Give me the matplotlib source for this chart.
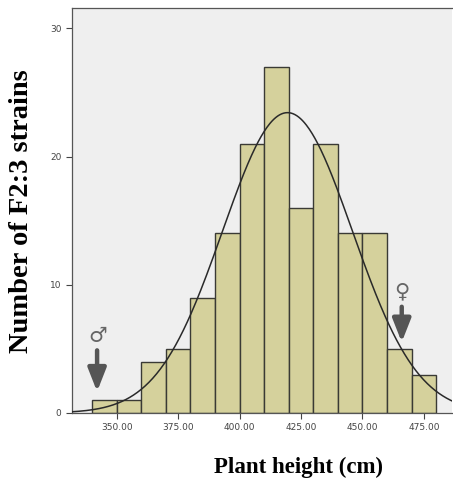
import numpy as np
import matplotlib
matplotlib.use("Agg")
import matplotlib.pyplot as plt

# Data
bin_left = [340, 350, 360, 370, 380, 390, 400, 410, 420, 430, 440, 450, 460, 470]
counts = [1, 1, 4, 5, 9, 14, 21, 27, 16, 21, 14, 14, 5, 3]
bin_width = 10
fit_mean = 419.5
fit_sd = 26.4
xticks = [350, 375, 400, 425, 450, 475]
yticks = [0, 10, 20, 30]
male_x, female_x = 342.0, 466.0

fig = plt.figure(figsize=(4.53, 4.87), dpi=100)
fig.patch.set_facecolor("white")
ax = fig.add_axes([0.159, 0.152, 0.839, 0.832])
ax.set_facecolor("#efefef")

ax.bar(bin_left, counts, width=bin_width, align="edge",
       color="#d5d19c", edgecolor="#3a3a35", linewidth=1.0, zorder=2)

n = sum(counts)
xs = np.linspace(331, 487, 400)
ys = n * bin_width / (fit_sd * np.sqrt(2 * np.pi)) * np.exp(-0.5 * ((xs - fit_mean) / fit_sd) ** 2)
ax.plot(xs, ys, color="#2a2a2a", linewidth=1.1, zorder=3)

ax.set_xlim(331.8, 486.5)
ax.set_ylim(0, 31.6)
ax.set_xticks(xticks)
ax.set_xticklabels([f"{v:.2f}" for v in xticks])
ax.set_yticks(yticks)
ax.tick_params(axis="both", labelsize=6.5, colors="#444444", length=4, width=0.8,
               labelcolor="#444444")
for s in ["left", "bottom", "top", "right"]:
    ax.spines[s].set_color("#555555")
    ax.spines[s].set_linewidth(0.9)
ax.spines["right"].set_visible(False)

arrow_kw = dict(arrowstyle="-|>,head_width=0.55,head_length=1.4", color="#555555", lw=3.2)
ax.annotate("", xy=(male_x, 1.45), xytext=(male_x, 5.1), arrowprops=arrow_kw, zorder=4)
ax.annotate("", xy=(female_x, 5.3), xytext=(female_x, 8.5), arrowprops=arrow_kw, zorder=4)
ax.text(male_x + 0.3, 6.0, "♂", fontsize=15, color="#666666", ha="center", va="center",
        family="DejaVu Sans")
ax.text(female_x, 9.5, "♀", fontsize=15, color="#666666", ha="center", va="center",
        family="DejaVu Sans")

fig.text(0.658, 0.041, "Plant height (cm)", fontsize=16.5, fontweight="bold",
         family="Liberation Serif", ha="center", va="center")
fig.text(0.047, 0.566, "Number of F2:3 strains", fontsize=20.5, fontweight="bold",
         family="Liberation Serif", ha="center", va="center", rotation=90)

fig.savefig("out.png", dpi=100)
